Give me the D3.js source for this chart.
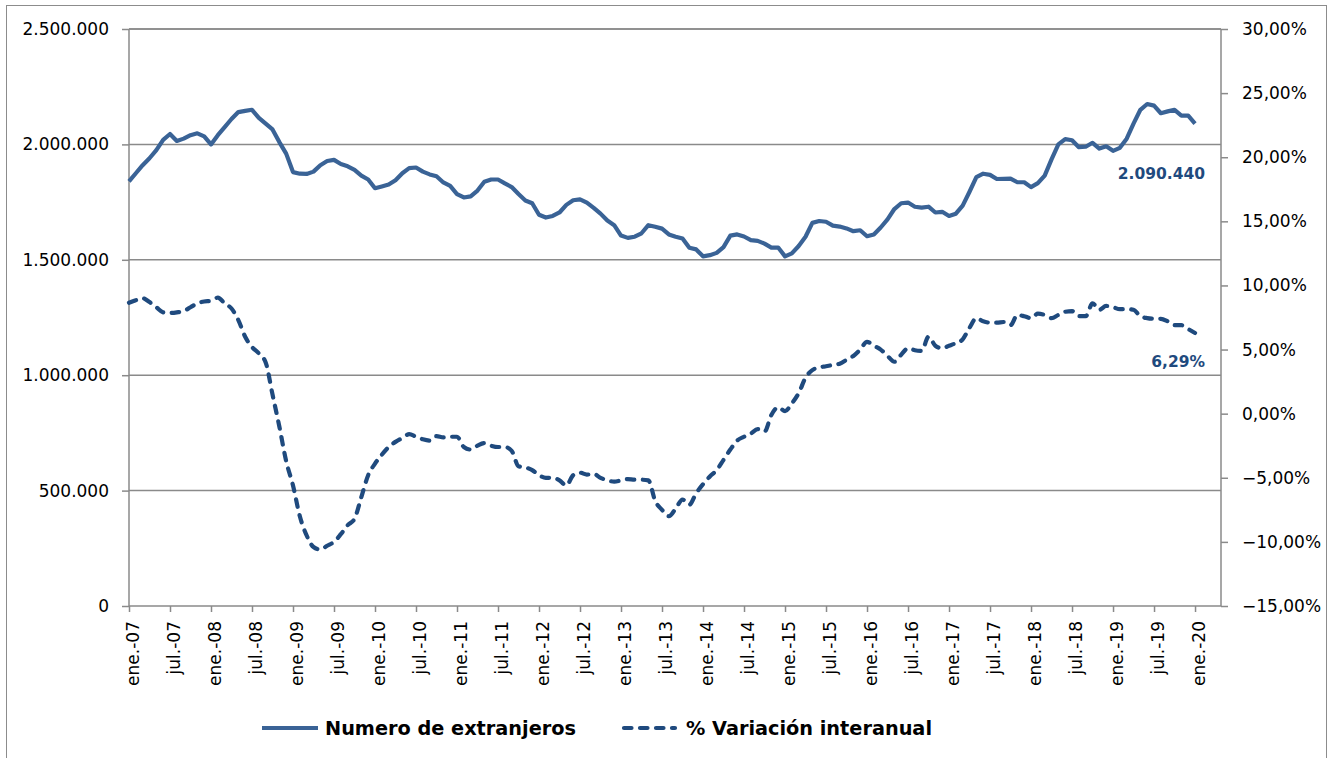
<!DOCTYPE html>
<html>
<head>
<meta charset="utf-8">
<script src="https://cdn.jsdelivr.net/npm/d3@7"></script>
<style>
  html, body { margin: 0; padding: 0; background: #fff; }
  svg { display: block; }
  text { font-family: "DejaVu Sans", sans-serif; }
</style>
</head>
<body>
<svg id="chart" width="1332" height="758"></svg>
<script>
// ---- DATA (monthly, ene.-07 .. ene.-20) ----
const tickLabels = ["ene.-07","jul.-07","ene.-08","jul.-08","ene.-09","jul.-09","ene.-10","jul.-10",
  "ene.-11","jul.-11","ene.-12","jul.-12","ene.-13","jul.-13","ene.-14","jul.-14","ene.-15","jul.-15",
  "ene.-16","jul.-16","ene.-17","jul.-17","ene.-18","jul.-18","ene.-19","jul.-19","ene.-20"];

// Numero de extranjeros (millions)
const extranjeros = [
  1.840,1.875,1.910,1.940,1.975,2.020,2.045,2.015,2.025,2.040,2.048,2.035,
  2.000,2.040,2.075,2.110,2.140,2.145,2.150,2.115,2.090,2.065,2.010,1.960,
  1.880,1.873,1.872,1.882,1.910,1.928,1.933,1.915,1.905,1.890,1.865,1.848,
  1.810,1.818,1.826,1.845,1.875,1.897,1.900,1.882,1.870,1.862,1.835,1.820,
  1.785,1.770,1.775,1.800,1.838,1.848,1.848,1.831,1.815,1.785,1.757,1.745,
  1.695,1.683,1.690,1.705,1.738,1.758,1.762,1.748,1.725,1.700,1.670,1.650,
  1.605,1.595,1.600,1.615,1.650,1.643,1.635,1.610,1.600,1.592,1.552,1.545,
  1.515,1.520,1.530,1.555,1.605,1.610,1.601,1.585,1.582,1.570,1.553,1.553,
  1.515,1.528,1.560,1.600,1.660,1.668,1.665,1.648,1.644,1.636,1.624,1.628,
  1.602,1.610,1.640,1.675,1.720,1.745,1.748,1.730,1.726,1.730,1.705,1.708,
  1.690,1.700,1.735,1.795,1.858,1.873,1.868,1.850,1.851,1.852,1.836,1.836,
  1.815,1.832,1.865,1.935,2.000,2.023,2.018,1.988,1.990,2.007,1.982,1.992,
  1.972,1.985,2.025,2.090,2.150,2.175,2.168,2.135,2.143,2.150,2.125,2.125,
  2.09044
].map(v => v * 1e6);

// % Variación interanual
const variacion = [
  8.65,8.85,9.00,8.70,8.30,7.90,7.85,7.90,8.00,8.30,8.60,8.75,
  8.80,9.05,8.60,8.20,7.30,6.00,5.20,4.70,4.00,1.50,-1.00,-3.70,
  -5.60,-8.00,-9.50,-10.40,-10.60,-10.30,-10.00,-9.40,-8.70,-8.20,-6.50,-4.80,
  -3.90,-3.20,-2.60,-2.20,-1.90,-1.60,-1.80,-2.00,-2.10,-1.75,-1.85,-1.80,
  -1.80,-2.60,-2.80,-2.50,-2.30,-2.50,-2.60,-2.60,-2.90,-4.10,-4.20,-4.40,
  -4.80,-5.00,-5.00,-5.20,-5.60,-4.80,-4.60,-4.75,-4.70,-5.00,-5.20,-5.30,
  -5.20,-5.10,-5.15,-5.15,-5.20,-6.80,-7.50,-8.00,-7.40,-6.70,-7.10,-6.20,
  -5.50,-4.90,-4.40,-3.60,-2.80,-2.10,-1.80,-1.55,-1.20,-1.40,-0.10,0.50,
  0.20,0.80,1.60,2.80,3.40,3.60,3.70,3.80,3.90,4.20,4.50,5.00,
  5.60,5.30,5.00,4.50,4.05,4.60,5.10,4.95,4.90,6.00,5.30,5.10,
  5.30,5.50,5.80,6.70,7.45,7.20,7.10,7.10,7.15,6.90,7.70,7.60,
  7.45,7.80,7.70,7.45,7.70,7.95,8.00,7.60,7.60,8.60,8.10,8.40,
  8.30,8.15,8.15,8.10,7.60,7.45,7.40,7.40,7.20,6.90,6.90,6.60,
  6.29
];

const leftTicks = [0, 500000, 1000000, 1500000, 2000000, 2500000];
const rightTicks = [-15, -10, -5, 0, 5, 10, 15, 20, 25, 30];
const seriesNames = ["Numero de extranjeros", "% Variación interanual"];
const lastLabels = ["2.090.440", "6,29%"];

// ---- LAYOUT ----
const svg = d3.select("#chart");
const plot = { left: 129, right: 1221, top: 29, bottom: 606 };
const colSolid = "#3A6396";
const colDash = "#1F4A7E";
const gridCol = "#8A8A8A";

const es = d3.formatLocale({ decimal: ",", thousands: ".", grouping: [3], currency: ["", "€"] });
const fmtLeft = es.format(",d");
const fmtRight = d => es.format(",.2f")(d) + "%";

const x = d3.scaleLinear().domain([0, 159.8]).range([plot.left, plot.right]);
const yL = d3.scaleLinear().domain([0, 2500000]).range([plot.bottom, plot.top]);
const yR = d3.scaleLinear().domain([-15, 30]).range([plot.bottom, plot.top]);

// outer border
svg.append("rect").attr("x", 6.5).attr("y", 5.5).attr("width", 1320).attr("height", 770)
  .attr("fill", "none").attr("stroke", "#8C8C8C").attr("stroke-width", 1);

// gridlines
svg.append("g").selectAll("line").data(leftTicks.filter(d => d > 0)).join("line")
  .attr("x1", plot.left).attr("x2", plot.right)
  .attr("y1", d => yL(d)).attr("y2", d => yL(d))
  .attr("stroke", gridCol).attr("stroke-width", 1.5);

// left axis
const gL = svg.append("g").attr("transform", `translate(${plot.left},0)`)
  .call(d3.axisLeft(yL).tickValues(leftTicks).tickFormat(fmtLeft).tickSize(7).tickPadding(13));
// right axis
const gR = svg.append("g").attr("transform", `translate(${plot.right},0)`)
  .call(d3.axisRight(yR).tickValues(rightTicks).tickFormat(fmtRight).tickSize(7).tickPadding(14));
// bottom axis
const tickIdx = tickLabels.map((_, i) => i * 6);
const gB = svg.append("g").attr("transform", `translate(0,${plot.bottom})`)
  .call(d3.axisBottom(x).tickValues(tickIdx).tickFormat((d, i) => tickLabels[i]).tickSize(6).tickPadding(0));
gB.selectAll("text")
  .attr("transform", "rotate(-90)")
  .attr("text-anchor", "end")
  .attr("x", -15).attr("y", 4).attr("dy", "0.35em");

[gL, gR, gB].forEach(g => {
  g.selectAll(".domain").attr("stroke", gridCol).attr("stroke-width", 1.5);
  g.selectAll(".tick line").attr("stroke", gridCol).attr("stroke-width", 1.5);
  g.selectAll("text").attr("font-size", 17).attr("fill", "#000").attr("font-family", "DejaVu Sans, sans-serif");
});
gB.select(".domain").attr("d", `M${plot.left},0H${plot.right}`);
gL.select(".domain").attr("d", `M0,${plot.top}V${plot.bottom}`);
gR.select(".domain").attr("d", `M0,${plot.top}V${plot.bottom}`);
svg.append("line").attr("x1", plot.left).attr("x2", plot.right).attr("y1", plot.top).attr("y2", plot.top)
  .attr("stroke", gridCol).attr("stroke-width", 1.5);

// lines
const lineL = d3.line().x((d, i) => x(i)).y(d => yL(d));
const lineR = d3.line().x((d, i) => x(i)).y(d => yR(d)).curve(d3.curveMonotoneX);

svg.append("path").datum(variacion).attr("d", lineR)
  .attr("fill", "none").attr("stroke", colDash).attr("stroke-width", 4.2)
  .attr("stroke-dasharray", "7.5,8.5").attr("stroke-linecap", "round").attr("stroke-linejoin", "round");

svg.append("path").datum(extranjeros).attr("d", lineL)
  .attr("fill", "none").attr("stroke", colSolid).attr("stroke-width", 4.2)
  .attr("stroke-linejoin", "round");

// end labels
const lastI = extranjeros.length - 1;
svg.append("text").attr("x", x(lastI) + 10).attr("y", yL(extranjeros[lastI]) + 55)
  .attr("text-anchor", "end").attr("font-weight", "bold").attr("font-size", 15.5)
  .attr("fill", colDash).text(lastLabels[0]);
svg.append("text").attr("x", x(lastI) + 10).attr("y", yR(variacion[lastI]) + 34)
  .attr("text-anchor", "end").attr("font-weight", "bold").attr("font-size", 15.5)
  .attr("fill", colDash).text(lastLabels[1]);

// legend
const legY = 728;
const leg = svg.append("g");
leg.append("line").attr("x1", 262).attr("x2", 318).attr("y1", legY).attr("y2", legY)
  .attr("stroke", colSolid).attr("stroke-width", 4.2);
leg.append("text").attr("x", 325).attr("y", legY).attr("dy", "0.35em")
  .attr("font-weight", "bold").attr("font-size", 19.3).attr("fill", "#000").text(seriesNames[0]);
leg.append("line").attr("x1", 624).attr("x2", 675).attr("y1", legY).attr("y2", legY)
  .attr("stroke", colDash).attr("stroke-width", 4.2).attr("stroke-dasharray", "7.5,8.5").attr("stroke-linecap", "round");
leg.append("text").attr("x", 686).attr("y", legY).attr("dy", "0.35em")
  .attr("font-weight", "bold").attr("font-size", 19.3).attr("fill", "#000").text(seriesNames[1]);
</script>
</body>
</html>
